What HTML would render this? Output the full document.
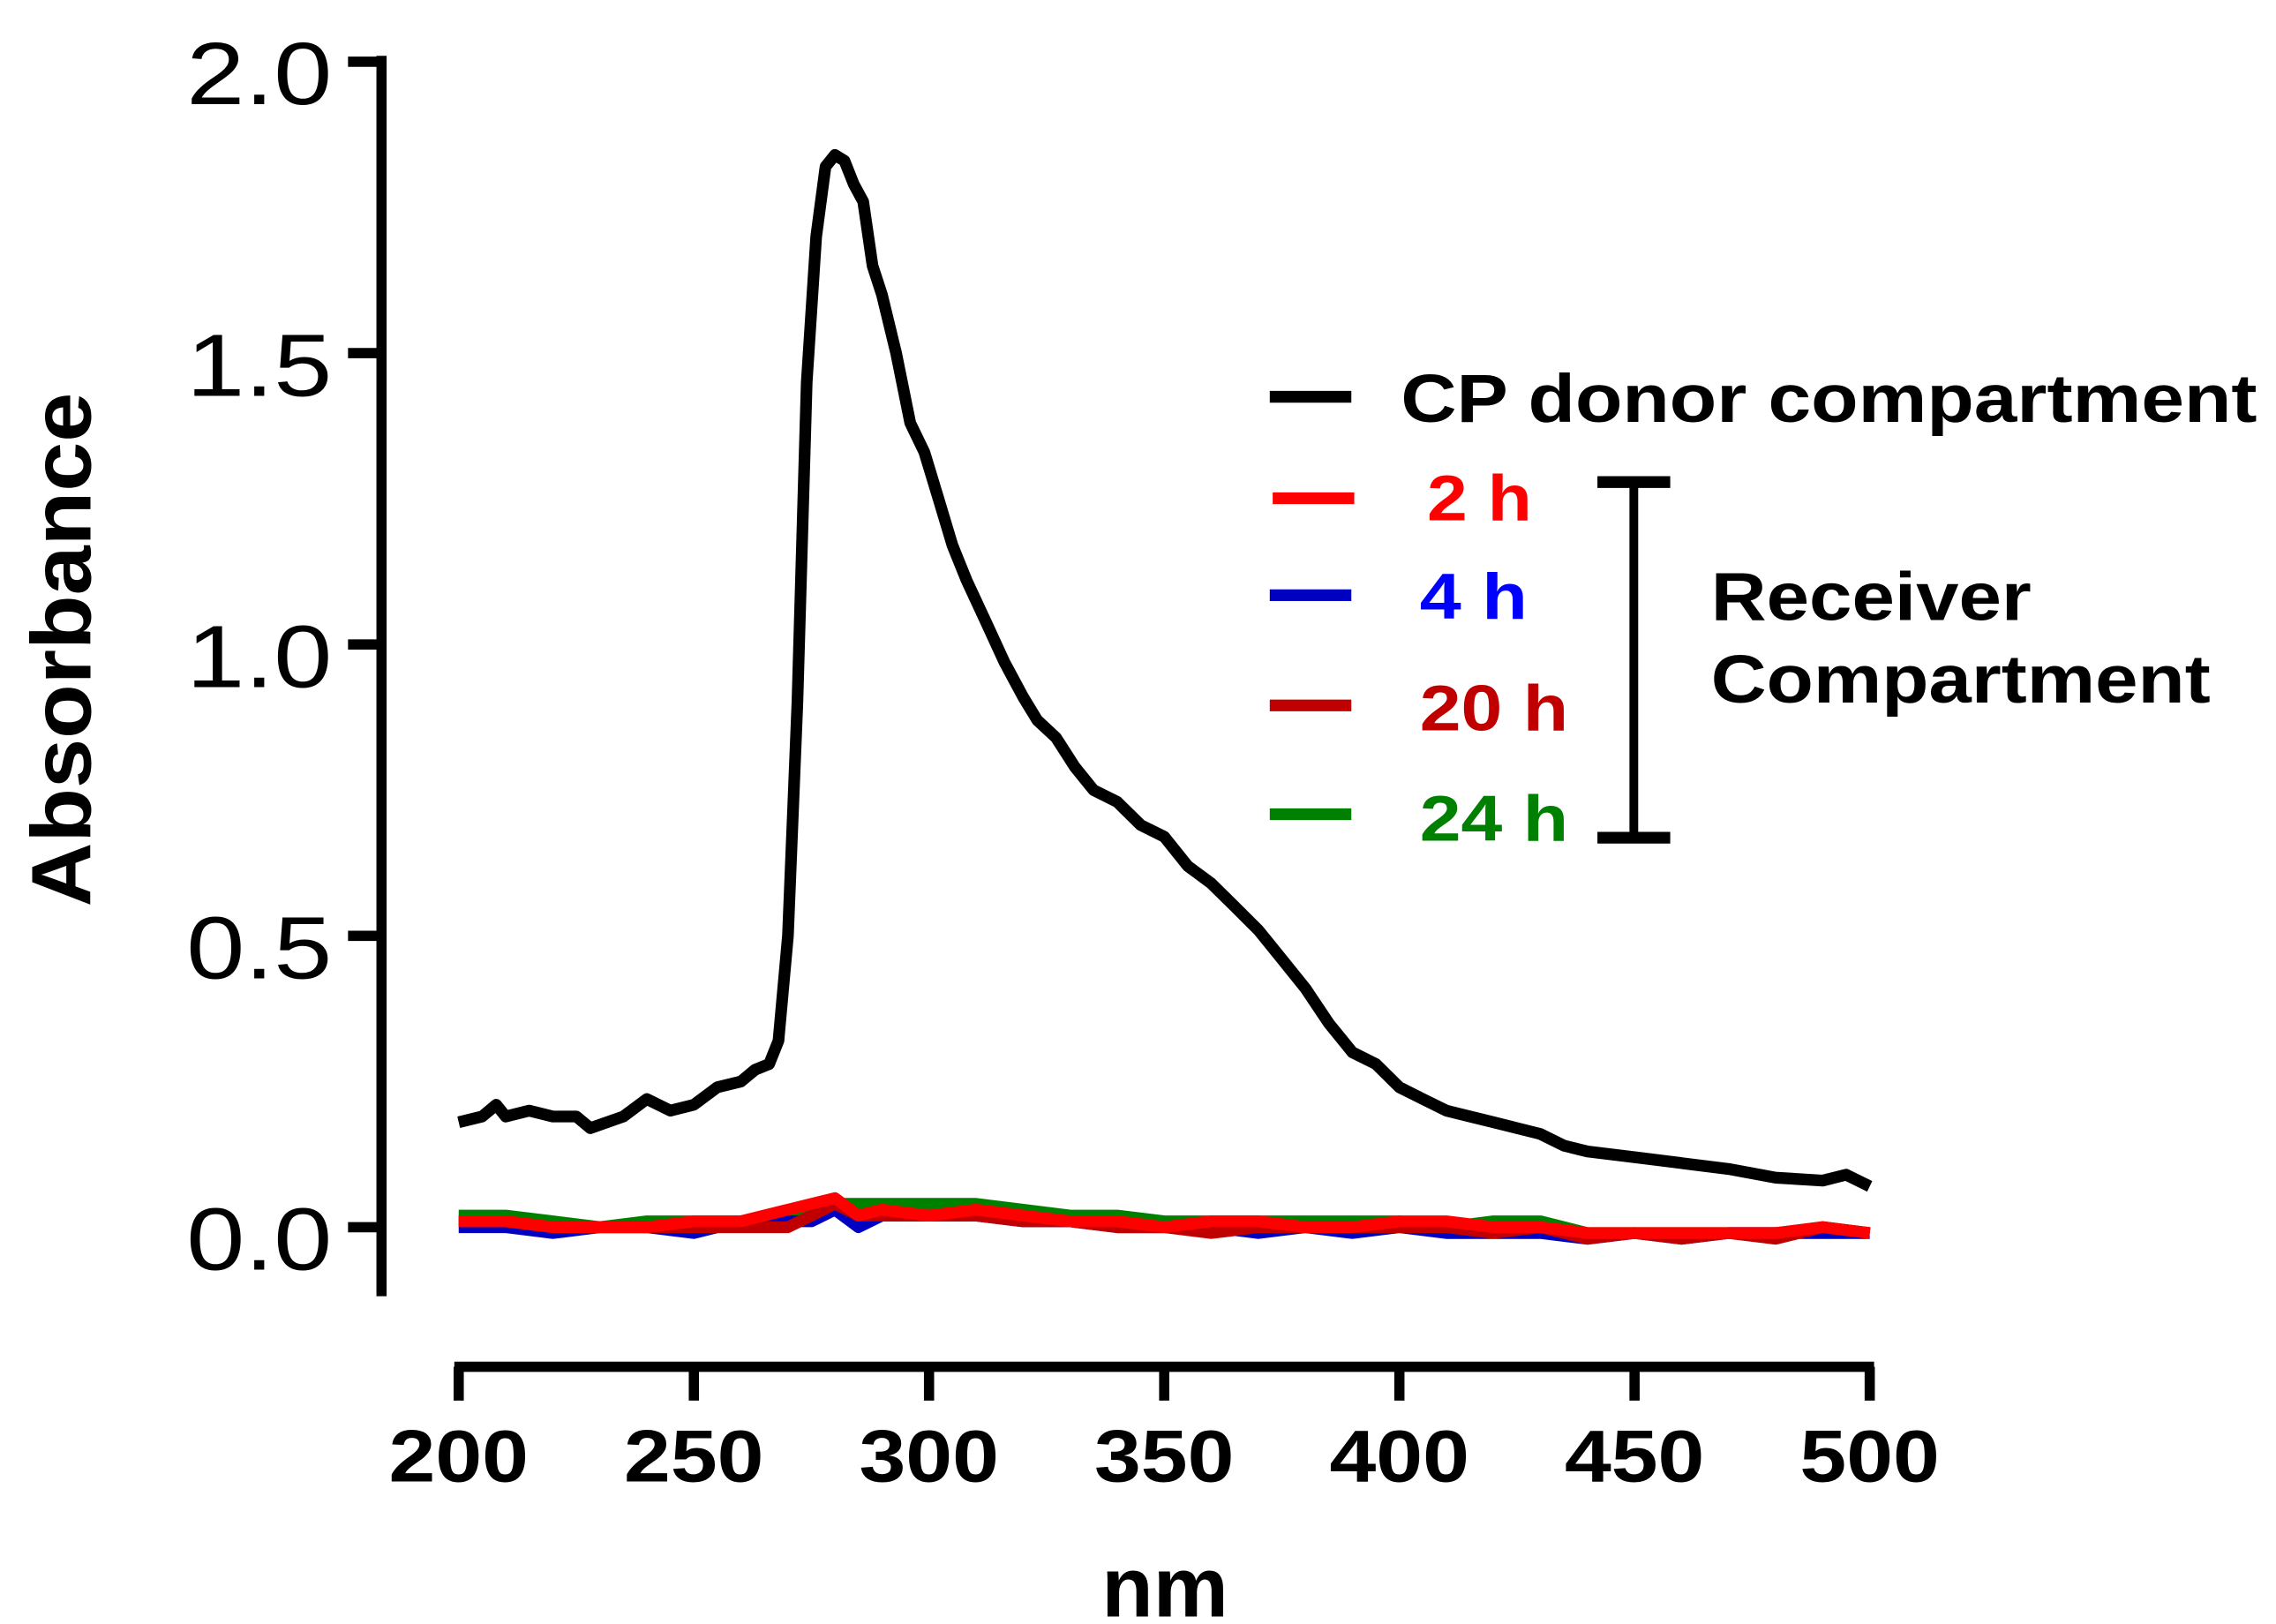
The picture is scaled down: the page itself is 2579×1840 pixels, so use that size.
<!DOCTYPE html>
<html><head><meta charset="utf-8"><style>
html,body{margin:0;padding:0;background:#fff;}
svg{display:block;}
text{font-family:"Liberation Sans",sans-serif;}
</style></head><body>
<svg id="chart" width="2579" height="1840" viewBox="0 0 1563 1105" preserveAspectRatio="none" xmlns="http://www.w3.org/2000/svg">
<g id="axes"></g>
<g id="series"></g>
<g id="legend">
  <line x1="872" y1="270" x2="928" y2="270" stroke="#000" stroke-width="8"/>
  <text x="962" y="287" font-size="46" font-weight="bold" textLength="588" lengthAdjust="spacingAndGlyphs">CP donor compartment</text>
  <line x1="874" y1="339" x2="930" y2="339" stroke="#ff0000" stroke-width="8"/>
  <text x="980" y="354" font-size="44" font-weight="bold" fill="#ff0000" textLength="72" lengthAdjust="spacingAndGlyphs">2 h</text>
  <line x1="872" y1="405" x2="928" y2="405" stroke="#0000c0" stroke-width="8"/>
  <text x="975" y="421" font-size="44" font-weight="bold" fill="#0000ff" textLength="74" lengthAdjust="spacingAndGlyphs">4 h</text>
  <line x1="872" y1="480" x2="928" y2="480" stroke="#c00000" stroke-width="8"/>
  <text x="975" y="497" font-size="44" font-weight="bold" fill="#c00000" textLength="102" lengthAdjust="spacingAndGlyphs">20 h</text>
  <line x1="872" y1="554" x2="928" y2="554" stroke="#008000" stroke-width="8"/>
  <text x="975" y="572" font-size="44" font-weight="bold" fill="#008000" textLength="102" lengthAdjust="spacingAndGlyphs">24 h</text>
  <g stroke="#000" stroke-width="6">
    <line x1="1122" y1="328" x2="1122" y2="570"/>
    <line x1="1097" y1="328" x2="1147" y2="328" stroke-width="8"/>
    <line x1="1097" y1="570" x2="1147" y2="570" stroke-width="8"/>
  </g>
  <text x="1175" y="422" font-size="46" font-weight="bold" textLength="220" lengthAdjust="spacingAndGlyphs">Receiver</text>
  <text x="1175" y="478" font-size="46" font-weight="bold" textLength="343" lengthAdjust="spacingAndGlyphs">Compartment</text>
</g>
</svg>
<script>
const donorNm = [200,205,208,210,215,220,225,228,235,240,245,250,255,260,263,266,268,270,272,274,276,278,280,282,284,286,288,290,293,296,299,302,305,308,312,316,320,323,327,331,335,340,345,350,355,360,365,370,375,380,385,390,395,400,405,410,415,420,425,430,435,440,450,460,470,480,490,495,500];
const donorAbs = [0.18,0.19,0.21,0.19,0.2,0.19,0.19,0.17,0.19,0.22,0.2,0.21,0.24,0.25,0.27,0.28,0.32,0.5,0.9,1.45,1.7,1.82,1.84,1.83,1.79,1.76,1.65,1.6,1.5,1.38,1.33,1.25,1.17,1.11,1.04,0.97,0.91,0.87,0.84,0.79,0.75,0.73,0.69,0.67,0.62,0.59,0.55,0.51,0.46,0.41,0.35,0.3,0.28,0.24,0.22,0.2,0.19,0.18,0.17,0.16,0.14,0.13,0.12,0.11,0.1,0.085,0.08,0.09,0.07];
const recNm = [200,210,220,230,240,250,260,270,275,280,285,290,300,310,320,330,340,350,360,370,380,390,400,410,420,430,440,450,460,470,480,490,500];
const rec24 = [0.02,0.02,0.01,0.0,0.01,0.01,0.01,0.02,0.03,0.04,0.04,0.04,0.04,0.04,0.03,0.02,0.02,0.01,0.01,0.01,0.01,0.01,0.01,0.0,0.01,0.01,-0.01,-0.01,-0.01,-0.01,-0.01,0.0,-0.01];
const rec20 = [0.01,0.01,0.0,0.0,0.0,0.0,0.0,0.0,0.02,0.04,0.02,0.02,0.02,0.02,0.01,0.01,0.0,0.0,-0.01,0.0,0.0,0.0,0.0,0.0,-0.01,0.0,-0.02,-0.01,-0.02,-0.01,-0.02,0.0,-0.01];
const rec4 = [0.0,0.0,-0.01,0.0,0.0,-0.01,0.01,0.01,0.01,0.03,0.0,0.02,0.02,0.02,0.01,0.01,0.0,0.0,0.0,-0.01,0.0,-0.01,0.0,-0.01,-0.01,-0.01,-0.02,-0.01,-0.02,-0.01,-0.01,-0.01,-0.01];
const rec2 = [0.01,0.01,0.0,0.0,0.0,0.01,0.01,0.03,0.04,0.05,0.02,0.03,0.02,0.03,0.02,0.01,0.01,0.0,0.01,0.01,0.0,0.0,0.01,0.01,0.0,0.0,-0.01,-0.01,-0.01,-0.01,-0.01,0.0,-0.01];
const yTicks = [0,0.5,1,1.5,2];
const yTickLabels = ["0.0","0.5","1.0","1.5","2.0"];
const xTicks = [200,250,300,350,400,450,500];
const xTickLabels = ["200","250","300","350","400","450","500"];

const NS = "http://www.w3.org/2000/svg";
const xs = nm => 315 + (nm - 200) * (1284 - 315) / 300;
const ys = v => 835 - v * (835 - 42) / 2;
function mk(tag, attrs, parent) {
  const e = document.createElementNS(NS, tag);
  for (const k in attrs) e.setAttribute(k, attrs[k]);
  parent.appendChild(e);
  return e;
}
const axes = document.getElementById('axes');
const yAxis = mk('line', {x1:262,y1:38,x2:262,y2:882,stroke:'#000','stroke-width':7}, axes);


yTicks.forEach((v, i) => {
  const t = mk('line', {x1:239,y1:ys(v),x2:262,y2:ys(v),stroke:'#000','stroke-width':7}, axes);
  
  
  const l = mk('text', {x:228,y:ys(v)+29,'font-size':60,'text-anchor':'end',textLength:100,lengthAdjust:'spacingAndGlyphs'}, axes);
  l.textContent = yTickLabels[i];
  
  
});
const xAxis = mk('line', {x1:312,y1:930,x2:1287,y2:930,stroke:'#000','stroke-width':7}, axes);


xTicks.forEach((v, i) => {
  const t = mk('line', {x1:xs(v),y1:930,x2:xs(v),y2:953,stroke:'#000','stroke-width':7}, axes);
  
  
  const l = mk('text', {x:xs(v),y:1008,'font-size':50,'font-weight':'bold','text-anchor':'middle',textLength:96,lengthAdjust:'spacingAndGlyphs'}, axes);
  l.textContent = xTickLabels[i];
  
  
});
const xt = mk('text', {x:800,y:1100,'font-size':58,'font-weight':'bold','text-anchor':'middle'}, axes);
xt.textContent = 'nm';


const yt = mk('text', {x:0,y:0,'font-size':58,'font-weight':'bold','text-anchor':'middle',transform:'translate(62,442) rotate(-90)',textLength:350,lengthAdjust:'spacingAndGlyphs'}, axes);
yt.textContent = 'Absorbance';



const sg = document.getElementById('series');
function drawLine(nm, vals, color, name) {
  const d = nm.map((n, i) => (i ? 'L' : 'M') + xs(n).toFixed(1) + ',' + ys(vals[i]).toFixed(1)).join(' ');
  const p = mk('path', {d:d,fill:'none',stroke:color,'stroke-width':8,'stroke-linejoin':'round'}, sg);
  
  
}
drawLine(recNm, rec24, '#008000', 'series-24h');
drawLine(recNm, rec4, '#0000c0', 'series-4h');
drawLine(recNm, rec20, '#c00000', 'series-20h');
drawLine(recNm, rec2, '#ff0000', 'series-2h');
drawLine(donorNm, donorAbs, '#000000', 'series-cp-donor');
</script>
</body></html>
